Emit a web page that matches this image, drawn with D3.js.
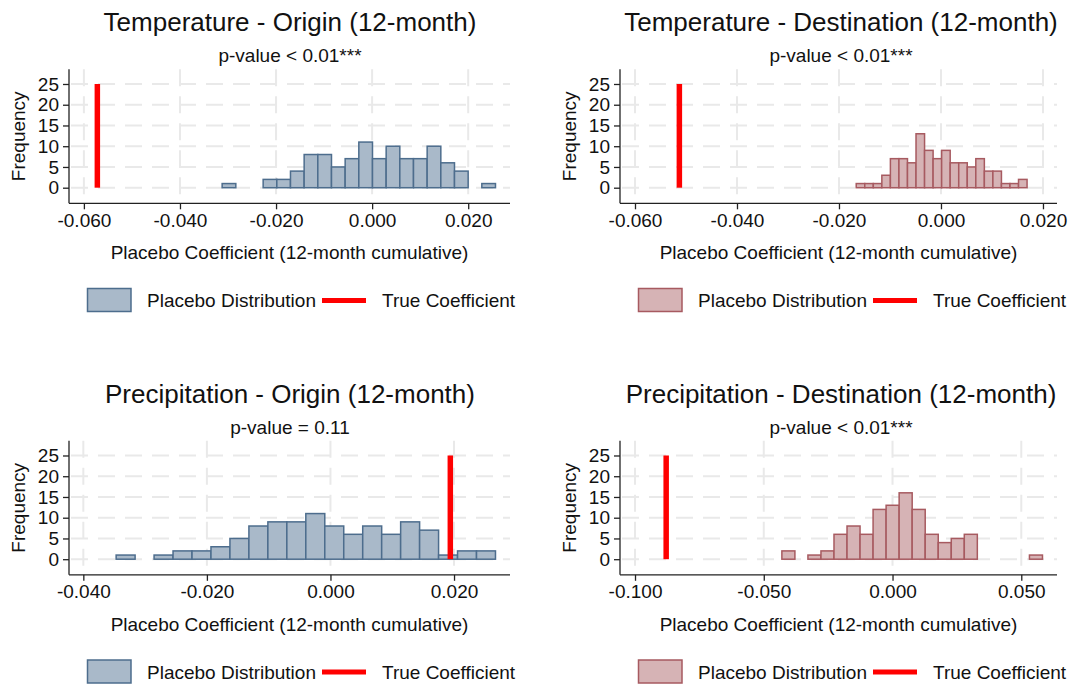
<!DOCTYPE html>
<html>
<head>
<meta charset="utf-8">
<script src="https://cdn.jsdelivr.net/npm/d3@7"></script>
<style>
  html, body { margin: 0; padding: 0; background: #fff; }
  svg { display: block; font-family: "Liberation Sans", Arial, Helvetica, sans-serif; }
</style>
</head>
<body>
<svg id="chart" width="1078" height="684"></svg>
<script>
// Placebo histograms: counts per bin, with bin start and bin width for each panel
const panelTitles = [
  "Temperature - Origin (12-month)",
  "Temperature - Destination (12-month)",
  "Precipitation - Origin (12-month)",
  "Precipitation - Destination (12-month)"
];
const pValueLabels = ["p-value < 0.01***", "p-value < 0.01***", "p-value = 0.11", "p-value < 0.01***"];

const tempOriginCounts = [1, 0, 0, 2, 2, 4, 8, 8, 5, 7, 11, 7, 10, 7, 7, 10, 6, 4, 0, 1];
const tempDestCounts   = [1, 1, 1, 3, 7, 7, 6, 13, 9, 7, 9, 6, 6, 5, 7, 4, 4, 1, 1, 2];
const precOriginCounts = [1, 0, 1, 2, 2, 3, 5, 8, 9, 9, 11, 8, 6, 8, 6, 9, 7, 1, 2, 2];
const precDestCounts   = [2, 0, 1, 2, 6, 8, 6, 12, 13, 16, 12, 6, 4, 5, 6, 0, 0, 0, 0, 1];

const binStarts = [-0.03122, -0.01662, -0.03469, -0.04297];
const binWidths = [0.002845, 0.001675, 0.00307, 0.00506];

const trueCoefficients = [-0.0572, -0.0513, 0.0194, -0.0879];

const xTickValues = [
  [-0.06, -0.04, -0.02, 0, 0.02],
  [-0.06, -0.04, -0.02, 0, 0.02],
  [-0.04, -0.02, 0, 0.02],
  [-0.1, -0.05, 0, 0.05]
];
const xDomains = [
  [-0.0631, 0.0287],
  [-0.06294, 0.02275],
  [-0.04232, 0.02906],
  [-0.10583, 0.06387]
];
const yTickValues = [0, 5, 10, 15, 20, 25];
const yDomain = [-3.76, 28.54];

const xAxisTitle = "Placebo Coefficient (12-month cumulative)";
const yAxisTitle = "Frequency";
const legendLabels = ["Placebo Distribution", "True Coefficient"];

// Styling
const blueStyle = { fill: "#a9b9c9", stroke: "#4d6d8d" };
const redStyle  = { fill: "#d6b3b5", stroke: "#a75a60" };
const panelStyles = [blueStyle, redStyle, blueStyle, redStyle];
const textColor = "#111";
const labelSize = 19;
const fmt = v => d3.format(".3f")(v).replace("\u2212", "-");

const allCounts = [tempOriginCounts, tempDestCounts, precOriginCounts, precDestCounts];

const svg = d3.select("#chart");
svg.append("rect").attr("width", 1078).attr("height", 684).attr("fill", "#fff");

const colOffsets = [0, 551];
const rowOffsets = [0, 371.5];

allCounts.forEach((counts, i) => {
  const ox = colOffsets[i % 2];
  const oy = rowOffsets[Math.floor(i / 2)];
  const plotLeft = 69 + ox;
  const plotRight = (i % 2 === 0 ? 510 : 506) + ox;
  const plotTop = 69.3 + oy;
  const plotBottom = 203.3 + oy;
  const style = panelStyles[i];

  const g = svg.append("g");

  const x = d3.scaleLinear().domain(xDomains[i]).range([plotLeft, plotRight]);
  const y = d3.scaleLinear().domain(yDomain).range([plotBottom, plotTop]);

  // Titles
  const cx = 290 + ox;
  g.append("text").attr("x", cx).attr("y", 31 + oy)
    .attr("text-anchor", "middle").attr("font-size", 26).attr("fill", textColor)
    .text(panelTitles[i]);
  g.append("text").attr("x", cx).attr("y", 62 + oy)
    .attr("text-anchor", "middle").attr("font-size", labelSize).attr("fill", textColor)
    .text(pValueLabels[i]);

  // Dashed grid
  const grid = g.append("g").attr("stroke", "#e9e9e9").attr("stroke-width", 2)
    .attr("stroke-dasharray", "17,10");
  grid.selectAll("line.h").data(yTickValues).join("line").attr("class", "h")
    .attr("x1", plotLeft + 2).attr("x2", plotRight)
    .attr("y1", d => y(d)).attr("y2", d => y(d));
  grid.selectAll("line.v").data(xTickValues[i]).join("line").attr("class", "v")
    .attr("x1", d => x(d)).attr("x2", d => x(d))
    .attr("y1", plotTop).attr("y2", plotBottom);

  // Histogram bars
  const bins = counts.map((c, k) => ({
    x0: binStarts[i] + k * binWidths[i],
    x1: binStarts[i] + (k + 1) * binWidths[i],
    count: c
  })).filter(b => b.count > 0);
  g.append("g").selectAll("rect").data(bins).join("rect")
    .attr("x", d => x(d.x0))
    .attr("width", d => x(d.x1) - x(d.x0))
    .attr("y", d => y(d.count))
    .attr("height", d => y(0) - y(d.count))
    .attr("fill", style.fill)
    .attr("stroke", style.stroke)
    .attr("stroke-width", 1.5);

  // True coefficient line
  g.append("line")
    .attr("x1", x(trueCoefficients[i])).attr("x2", x(trueCoefficients[i]))
    .attr("y1", y(0)).attr("y2", y(25))
    .attr("stroke", "#ff0000").attr("stroke-width", 5.5);

  // Axes
  const xAxis = d3.axisBottom(x).tickValues(xTickValues[i]).tickFormat(fmt).tickSize(6).tickPadding(4);
  const xg = g.append("g").attr("transform", `translate(0,${plotBottom})`).call(xAxis);
  xg.select(".domain").attr("d", `M${plotLeft},0H${plotRight}`).attr("stroke", "#222").attr("stroke-width", 1.3);
  xg.selectAll(".tick line").attr("stroke", "#222").attr("stroke-width", 1.3);
  xg.selectAll(".tick text").attr("font-size", labelSize).attr("fill", textColor)
    .attr("font-family", null);

  const yAxis = d3.axisLeft(y).tickValues(yTickValues).tickSize(6).tickPadding(4);
  const yg = g.append("g").attr("transform", `translate(${plotLeft},0)`).call(yAxis);
  yg.select(".domain").attr("d", `M0,${plotTop}V${plotBottom}`).attr("stroke", "#222").attr("stroke-width", 1.3);
  yg.selectAll(".tick line").attr("stroke", "#222").attr("stroke-width", 1.3);
  yg.selectAll(".tick text").attr("font-size", labelSize).attr("fill", textColor)
    .attr("font-family", null);

  // Axis titles
  g.append("text").attr("x", (plotLeft + plotRight) / 2).attr("y", 259 + oy)
    .attr("text-anchor", "middle").attr("font-size", labelSize).attr("fill", textColor)
    .text(xAxisTitle);
  g.append("text")
    .attr("transform", `translate(${25 + ox},${(plotTop + plotBottom) / 2}) rotate(-90)`)
    .attr("text-anchor", "middle").attr("font-size", labelSize).attr("fill", textColor)
    .text(yAxisTitle);

  // Legend
  const lg = g.append("g").attr("transform", `translate(${ox},${oy})`);
  lg.append("rect").attr("x", 87.5).attr("y", 288.5).attr("width", 43.5).attr("height", 23)
    .attr("fill", style.fill).attr("stroke", style.stroke).attr("stroke-width", 1.5);
  lg.append("text").attr("x", 147).attr("y", 307).attr("font-size", labelSize).attr("fill", textColor)
    .text(legendLabels[0]);
  lg.append("line").attr("x1", 322).attr("x2", 366).attr("y1", 300.5).attr("y2", 300.5)
    .attr("stroke", "#ff0000").attr("stroke-width", 5);
  lg.append("text").attr("x", 382).attr("y", 307).attr("font-size", labelSize).attr("fill", textColor)
    .text(legendLabels[1]);
});
</script>
</body>
</html>
